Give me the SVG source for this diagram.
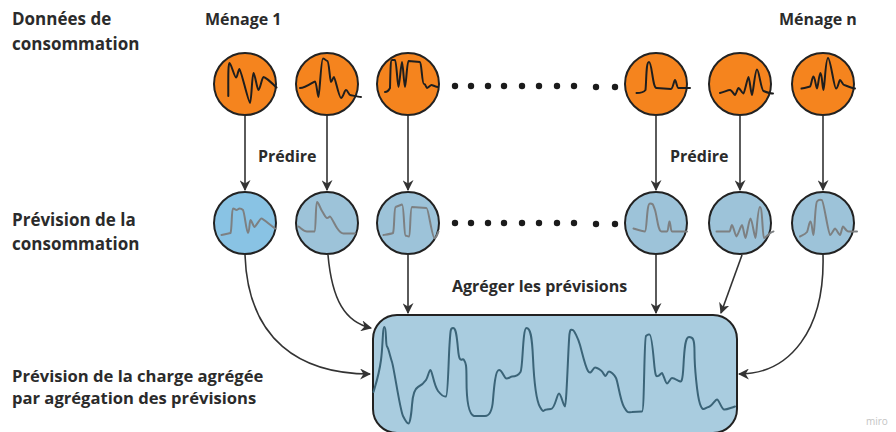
<svg xmlns="http://www.w3.org/2000/svg" width="896" height="432" viewBox="0 0 896 432">
<style>
.t{font-family:"Open Sans","Noto Sans",sans-serif;font-weight:700;font-size:16px;fill:#2b2b2b}
.tl{font-size:17px}
.tb{font-size:16.6px}
.orange{fill:#F5841E;stroke:#222;stroke-width:2}
.blue{fill:#9DC3D9;stroke:#222;stroke-width:2}
.w1{fill:none;stroke:#1e1e1e;stroke-width:2;stroke-linejoin:round;stroke-linecap:round}
.w2{fill:none;stroke:#7d8082;stroke-width:2;stroke-linejoin:round;stroke-linecap:round}
.w3{fill:none;stroke:#3b6478;stroke-width:2;stroke-linejoin:round;stroke-linecap:round}
.c{fill:none;stroke:#333;stroke-width:1.6}
.dot{fill:#1b1b1b}
</style>
<defs>
<marker id="ah" viewBox="0 0 10 10" refX="9" refY="5" markerWidth="11" markerHeight="11" markerUnits="userSpaceOnUse" orient="auto">
<path d="M0,0 L10,5 L0,10 L3,5 z" fill="#333"/>
</marker>
</defs>
<rect width="896" height="432" fill="#fff"/>

<g id="labels">
<text class="t tl" x="12" y="25">Données de</text>
<text class="t tl" x="12" y="50">consommation</text>
<text class="t" x="205" y="25">Ménage 1</text>
<text class="t" x="779" y="25">Ménage n</text>
<text class="t tl" x="12" y="226">Prévision de la</text>
<text class="t tl" x="12" y="250">consommation</text>
<text class="t tb" x="12" y="382">Prévision de la charge agrégée</text>
<text class="t tb" x="12" y="404">par agrégation des prévisions</text>
<text class="t" x="258" y="162">Prédire</text>
<text class="t" x="670" y="162">Prédire</text>
<text class="t" x="452" y="292">Agréger les prévisions</text>
<text x="866" y="425" style="font-family:'Open Sans',sans-serif;font-size:10px;fill:#c4c4c4">miro</text>
</g>

<g id="dots">
<circle class="dot" cx="455" cy="86" r="3.2"/><circle class="dot" cx="471" cy="86" r="3.2"/><circle class="dot" cx="488" cy="86" r="3.2"/><circle class="dot" cx="504" cy="86" r="3.2"/><circle class="dot" cx="522" cy="86" r="3.2"/><circle class="dot" cx="539" cy="86" r="3.2"/><circle class="dot" cx="557" cy="86" r="3.2"/><circle class="dot" cx="574" cy="86" r="3.2"/><circle class="dot" cx="596" cy="87" r="3.2"/><circle class="dot" cx="615" cy="87" r="3.2"/>
<circle class="dot" cx="455" cy="223" r="3.2"/><circle class="dot" cx="471" cy="223" r="3.2"/><circle class="dot" cx="488" cy="223" r="3.2"/><circle class="dot" cx="504" cy="223" r="3.2"/><circle class="dot" cx="522" cy="223" r="3.2"/><circle class="dot" cx="539" cy="223" r="3.2"/><circle class="dot" cx="557" cy="223" r="3.2"/><circle class="dot" cx="574" cy="223" r="3.2"/><circle class="dot" cx="596" cy="224" r="3.2"/><circle class="dot" cx="615" cy="224" r="3.2"/>
</g>

<g id="connectors">
<path class="c" marker-end="url(#ah)" d="M245,116 L245,190"/>
<path class="c" marker-end="url(#ah)" d="M327,116 L327,190"/>
<path class="c" marker-end="url(#ah)" d="M408,116 L408,190"/>
<path class="c" marker-end="url(#ah)" d="M656,116 L656,190"/>
<path class="c" marker-end="url(#ah)" d="M740,116 L740,190"/>
<path class="c" marker-end="url(#ah)" d="M823,116 L823,190"/>
<path class="c" marker-end="url(#ah)" d="M245,255 C248,340 300,374 370,374"/>
<path class="c" marker-end="url(#ah)" d="M328,255 C332,300 345,322 371,328"/>
<path class="c" marker-end="url(#ah)" d="M408,255 L408,313"/>
<path class="c" marker-end="url(#ah)" d="M656,255 L656,313"/>
<path class="c" marker-end="url(#ah)" d="M742,255 L721,313"/>
<path class="c" marker-end="url(#ah)" d="M823,255 C825,330 790,374 739,374"/>
</g>

<g id="h1">
<circle class="orange" cx="245" cy="84" r="31"/>
<path class="w1" d="M228.3,96 C228.3,80 228,63 229.5,63 S234.5,77.5 236,77.5 S238.2,69 239.5,69 S248.5,103 250,103 S252,73 253.5,73 S257,90 258.5,90 S262,77 263.5,77 S273,84 276.5,87.5"/>
<circle class="blue" cx="245" cy="223" r="31" style="fill:#89C3E4"/>
<path class="w2" d="M221.5,235 C225,234 229,233.5 230.5,233 C232,230 231.5,208.5 233,208.5 S235.5,210 236.5,210 S238.5,208.5 239.5,208.5 S242,209 243,210 C244.5,212 246.5,233 248,233 S249.5,220 250.5,220 S253.5,227 254.5,227 S260,218.5 261.5,218.5 S271,226 275,228.5"/>
</g>
<g id="h2">
<circle class="orange" cx="327" cy="84" r="31"/>
<path class="w1" d="M300,88 C306,88 313.5,81.5 315,81.5 S317.5,97 318.5,97 S321,58.5 323,58.5 S326,61 327.5,61 S330,82 331,82 S333,77 334,77 S339,98 341,98 S344.5,90 346,90 S349,95 350,95 S358,97 361,97"/>
<circle class="blue" cx="327" cy="223" r="31"/>
<path class="w2" d="M298.5,226.5 C302,229 304,231.5 307,231.5 L314.5,231.5 C316,231 315.5,202 317,202 S320,208 322,211 C324,214 325.5,218 327,218 S329,216.5 330,216.5 S335,225 337,228 S341,233.5 343.5,233.5 L355,233.5"/>
</g>
<g id="h3">
<circle class="orange" cx="408" cy="84" r="31"/>
<path class="w1" d="M385,92 C387,92 389,90 390,88 C390.5,70 390.5,60 392,60 L395,60 C396.5,60 397.5,87 398.5,87 S401,62 402,62 S404,87 405,87 S407,61 408.5,61 L420,62 C421.5,62 422,84 424,84 S426,88 427,88 S430.5,85 431.5,85 S436,87 438,87"/>
<circle class="blue" cx="408" cy="223" r="31"/>
<path class="w2" d="M383.5,235 C387,234.5 391,234 393,233 C394.5,230 394,207 395.5,207 L402,204.5 C404,204.5 404,235 405.5,235.5 S408,236.5 409,236.5 C410.5,236 410,207 412,207 L426.5,208 C428.5,208 432,238 434.5,238 S437.5,233 438.5,231.5"/>
</g>
<g id="h4">
<circle class="orange" cx="656" cy="84" r="31"/>
<path class="w1" d="M636.5,93 C640,93 644,92 645.5,90 C646.5,80 646,62 649,62 S652.5,88 656.5,88 L671,89 C673,89 674,80 675,80 S677,88 678.5,88 L690,88"/>
<circle class="blue" cx="656" cy="223" r="31"/>
<path class="w2" d="M633.5,228.5 C638,230 642,231.5 645,231.5 C647,231 646.5,203.5 650,203.5 S653,205 655,210 C657,216 658,231.5 661.5,231.5 L667,231.5 C668.5,231.5 668.5,221.5 669.5,221.5 S670.5,231.5 672,231.5 L687,231.5"/>
</g>
<g id="h5">
<circle class="orange" cx="740" cy="84" r="31"/>
<path class="w1" d="M720,93 C724,92 728,90 730,90 S734,95 735,95 S737.5,88 738.5,88 S742.5,93.5 743.5,93.5 S747.5,77 748.5,77 S751,95 752,95 S755,69.5 757,69.5 S761,90 763.5,91 S770,93.5 773,93.5"/>
<circle class="blue" cx="740" cy="223" r="31"/>
<path class="w2" d="M716.5,231.5 L729.5,231.5 C730.5,231.5 731,225 732,225 S735.5,236.5 736.5,236.5 S741,225 742,225 S744.5,238 745.5,238 S749,218.5 750.5,218.5 S754.5,238 755.5,238 S757.5,207 760,207 S762.5,238 764,238 S770,232 773.5,231.5"/>
</g>
<g id="hn">
<circle class="orange" cx="823" cy="84" r="31"/>
<path class="w1" d="M801.5,88.5 C805,88 808,87 810,86.5 C811.5,85 812,76.5 813.5,76.5 S816,88.5 817,88.5 S819,73 820.5,73 S822.5,90 823.5,90 S825.5,58 828,58 S834,88.5 836,88.5 S839,80 840,80 S843,85 844,85 S851,88 855,88.5"/>
<circle class="blue" cx="823" cy="223" r="31"/>
<path class="w2" d="M800,236.5 C803,235 805.5,234 807,232 C808.5,229 809,221.5 810.5,221.5 S812.5,235 813.5,235 S815,204 817,201.5 S820.5,200 822,200 S828.5,235 830,235 S834,228.5 835,228.5 S839,235 840,235 S842,226.5 843,226.5 S846,231.5 848.5,231.5 L857,231.5"/>
</g>

<g id="aggregate">
<rect x="373" y="315" width="364" height="118" rx="24" fill="#A9CCDF" stroke="#222" stroke-width="2"/>
<path class="w3" d="M373.5,392 C375.5,385 379,375 381,360 S382.5,327 384.5,327 S385.5,345 387,346.5 S390,356 392,362 S400,410 403,416 S407,423.5 408.5,423.5 S411.5,412 412,405 S414,389 418,387 S424,383 426,380 S429,370 430.5,370 S434,386 438,391 S444,397 446,396.5 S448.5,360 449.5,345 S450.5,328 453,328 S456.5,332 458,349 S462,357 464,360 S466.5,365 466.5,380 S468,414 474,416 L485,416 C489,416 492,413 493,400 S495.5,370 499,370 S504,378.5 506.5,378.5 S510.5,376.5 512,376.5 S518,376 520.5,372 S522.5,328 526.5,328 S532,336 533,358 S536,400 540,407 S543,409.5 546.5,409.5 L551,409 C555,409 557,393.5 559,393.5 S563.5,406.5 565,406.5 S568.5,340 569.5,334 S571,330 572.5,330 S578,338 580,345 S585,366 588,371 S593,367.5 595,367.5 S599,369 601,370.5 S604.5,376 605.5,376 S607.5,371.5 609,371.5 S614,374 616,378 S620,400 624,407 S628,412 632,412 L642,411.5 C644.5,411.5 644,338 646,336 S648,334.5 649.5,334.5 S652.5,345 654,362 S656.5,376 658,376 S661,373 662,373 S665.5,383.5 667,383.5 S670.5,378 672,378 S677,380 679,381 S682.5,384 683.5,365 S685.5,337 689,337 S694.5,338 694.5,352 S697,395 700,404 S705,407.5 708.5,407 S715,399.5 717,399.5 S721.5,409 724,409.5 S730,408 735,406.5"/>
</g>
</svg>
